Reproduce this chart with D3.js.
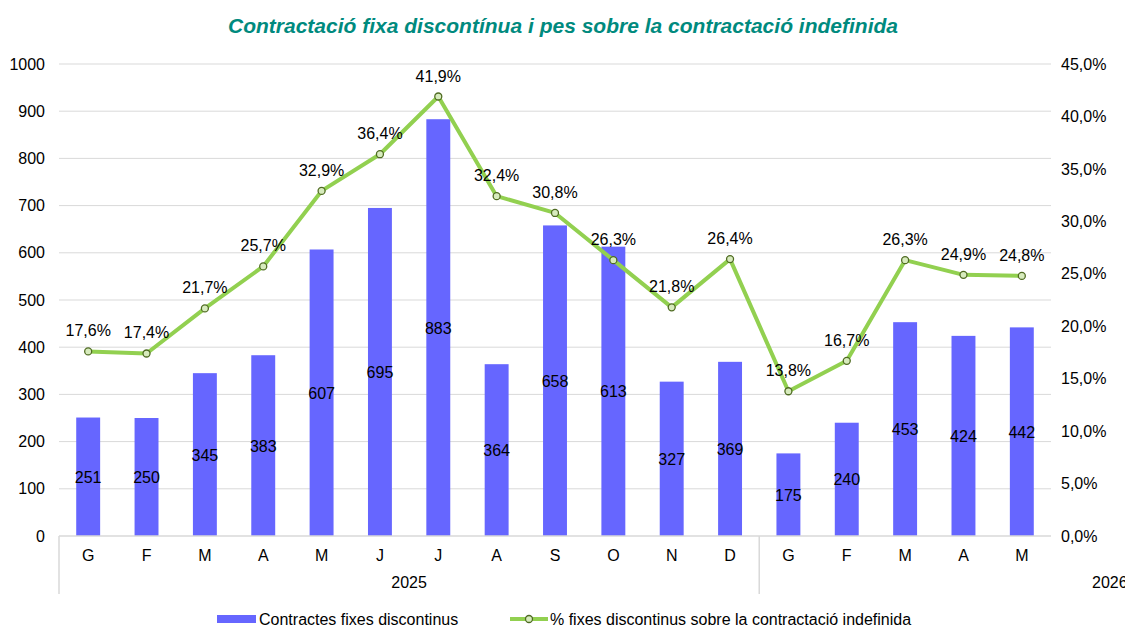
<!DOCTYPE html>
<html>
<head>
<meta charset="utf-8">
<script src="https://cdn.jsdelivr.net/npm/d3@7"></script>
<style>
  body { margin: 0; background: #fff; }
  text { font-family: "Liberation Sans", Arial, sans-serif; fill: #000; }
</style>
</head>
<body>
<svg width="1125" height="626"></svg>
<script>
// data
var months = ["G","F","M","A","M","J","J","A","S","O","N","D","G","F","M","A","M"];
var years = [{label: "2025", count: 12}, {label: "2026", count: 5}];
var contractes = [251,250,345,383,607,695,883,364,658,613,327,369,175,240,453,424,442];
var pctFixes = [17.6,17.4,21.7,25.7,32.9,36.4,41.9,32.4,30.8,26.3,21.8,26.4,13.8,16.7,26.3,24.9,24.8];
var leftTicks = [0,100,200,300,400,500,600,700,800,900,1000];
var rightTicks = [0,5,10,15,20,25,30,35,40,45];

var svg = d3.select("svg"),
    plotLeft = 59, plotRight = 1051, plotTop = 64, plotBottom = 536,
    fs = "16px";

var fmtPct = function(v) { return v.toFixed(1).replace(".", ",") + "%"; };

var x = d3.scaleBand()
    .domain(d3.range(months.length))
    .range([plotLeft, plotRight])
    .paddingInner(0.59)
    .paddingOuter(0.295);

var xc = function(i) { return x(i) + x.bandwidth() / 2; };

var y = d3.scaleLinear().domain([0, 1000]).range([plotBottom, plotTop]);
var y2 = d3.scaleLinear().domain([0, 45]).range([plotBottom, plotTop]);

// title
svg.append("text")
    .attr("x", 563).attr("y", 33)
    .attr("text-anchor", "middle")
    .attr("textLength", 670).attr("lengthAdjust", "spacingAndGlyphs")
    .style("font-size", "20px").style("font-weight", "bold").style("font-style", "italic")
    .style("fill", "#008a7e")
    .text("Contractació fixa discontínua i pes sobre la contractació indefinida");

// gridlines
svg.append("g").selectAll("line")
  .data(leftTicks.slice(1))
  .enter().append("line")
    .attr("x1", plotLeft).attr("x2", plotRight)
    .attr("y1", function(d) { return y(d); }).attr("y2", function(d) { return y(d); })
    .attr("stroke", "#d9d9d9").attr("stroke-width", 1);

// left axis
var yAxis = svg.append("g")
    .attr("transform", "translate(" + plotLeft + ",0)")
    .call(d3.axisLeft(y).tickValues(leftTicks).tickSize(0).tickPadding(14).tickFormat(d3.format("d")));
yAxis.select(".domain").remove();
yAxis.selectAll("text").style("font-size", fs).attr("font-family", null);

// right axis
var y2Axis = svg.append("g")
    .attr("transform", "translate(" + plotRight + ",0)")
    .call(d3.axisRight(y2).tickValues(rightTicks).tickSize(0).tickPadding(10).tickFormat(fmtPct));
y2Axis.select(".domain").remove();
y2Axis.selectAll("text").style("font-size", fs).attr("font-family", null);

// bars
svg.append("g").selectAll("rect")
  .data(contractes)
  .enter().append("rect")
    .attr("x", function(d, i) { return x(i); })
    .attr("y", function(d) { return y(d); })
    .attr("width", x.bandwidth())
    .attr("height", function(d) { return y(0) - y(d); })
    .attr("fill", "#6666ff");

// bar labels in the middle of each bar
svg.append("g").selectAll("text")
  .data(contractes)
  .enter().append("text")
    .attr("x", function(d, i) { return xc(i); })
    .attr("y", function(d) { return (y(d) + y(0)) / 2 + 6; })
    .attr("text-anchor", "middle")
    .style("font-size", fs)
    .text(function(d) { return d; });

// bottom axis line and separators
svg.append("line")
    .attr("x1", plotLeft).attr("x2", plotRight).attr("y1", plotBottom).attr("y2", plotBottom)
    .attr("stroke", "#d9d9d9").attr("stroke-width", 1.5);

var sepX = function(d) { return d === 0 ? plotLeft : x(d) - x.step() * x.paddingInner() / 2; };
svg.append("g").selectAll("line")
  .data([0, years[0].count])
  .enter().append("line")
    .attr("x1", sepX).attr("x2", sepX)
    .attr("y1", plotBottom).attr("y2", plotBottom + 58)
    .attr("stroke", "#d9d9d9").attr("stroke-width", 1.5);

svg.append("g").selectAll("text")
  .data(months)
  .enter().append("text")
    .attr("x", function(d, i) { return xc(i); })
    .attr("y", plotBottom + 25)
    .attr("text-anchor", "middle")
    .style("font-size", fs)
    .text(function(d) { return d; });

// year labels
svg.append("text")
    .attr("x", (plotLeft + sepX(years[0].count)) / 2)
    .attr("y", plotBottom + 52)
    .attr("text-anchor", "middle")
    .style("font-size", fs)
    .text(years[0].label);
svg.append("text")
    .attr("x", plotRight + 41)
    .attr("y", plotBottom + 52)
    .style("font-size", fs)
    .text(years[1].label);

// line
var line = d3.line()
    .x(function(d, i) { return xc(i); })
    .y(function(d) { return y2(d); });

svg.append("path")
    .datum(pctFixes)
    .attr("d", line)
    .attr("fill", "none")
    .attr("stroke", "#92d050")
    .attr("stroke-width", 4)
    .attr("stroke-linejoin", "round");

svg.append("g").selectAll("circle")
  .data(pctFixes)
  .enter().append("circle")
    .attr("cx", function(d, i) { return xc(i); })
    .attr("cy", function(d) { return y2(d); })
    .attr("r", 3.5)
    .attr("fill", "#d7ebbd")
    .attr("stroke", "#4f6b22")
    .attr("stroke-width", 1.3);

svg.append("g").selectAll("text")
  .data(pctFixes)
  .enter().append("text")
    .attr("x", function(d, i) { return xc(i); })
    .attr("y", function(d) { return y2(d) - 15; })
    .attr("text-anchor", "middle")
    .style("font-size", fs)
    .text(fmtPct);

// legend
var lg = svg.append("g").attr("transform", "translate(0,619)");
lg.append("rect").attr("x", 217).attr("y", -4).attr("width", 39).attr("height", 8).attr("fill", "#6666ff");
lg.append("text").attr("x", 259).attr("y", 6).style("font-size", fs).text("Contractes fixes discontinus");
lg.append("line").attr("x1", 510).attr("x2", 548).attr("y1", 0).attr("y2", 0)
    .attr("stroke", "#92d050").attr("stroke-width", 4);
lg.append("circle").attr("cx", 529).attr("cy", 0).attr("r", 3.5)
    .attr("fill", "#d7ebbd").attr("stroke", "#4f6b22").attr("stroke-width", 1.3);
lg.append("text").attr("x", 550).attr("y", 6).style("font-size", fs)
    .text("% fixes discontinus sobre la contractació indefinida");
</script>
</body>
</html>
